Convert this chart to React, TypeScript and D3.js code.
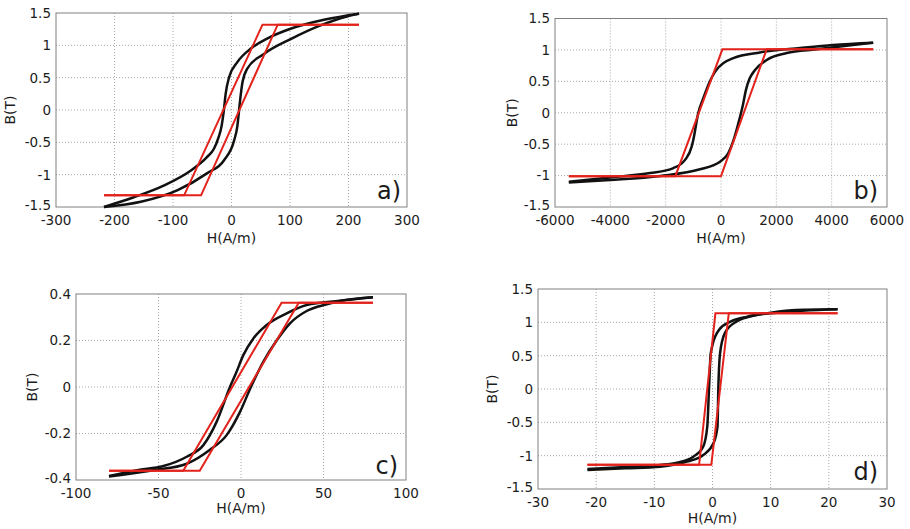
import React from 'react';
import * as d3 from 'd3';

type Pt = [number, number];

// ---- panel a) ----
const hTicksA = [-300, -200, -100, 0, 100, 200, 300];
const bTicksA = [-1.5, -1, -0.5, 0, 0.5, 1, 1.5];
const blackUpA: Pt[] = [
  [-218, -1.5], [-155, -1.42], [-92, -1.24], [-42, -0.98], [-13, -0.78], [4.5, -0.47],
  [10, -0.25], [13, 0], [16, 0.25], [19, 0.44], [27, 0.64], [56, 0.87], [102, 1.1],
  [150, 1.3], [199, 1.45], [218, 1.49],
];
const blackDownA: Pt[] = [
  [218, 1.49], [160, 1.4], [102, 1.26], [60, 1.1], [33, 0.95], [10, 0.74], [-4, 0.51],
  [-10, 0.25], [-13, 0], [-17, -0.25], [-22, -0.42], [-30, -0.6], [-42, -0.73],
  [-70, -0.94], [-116, -1.17], [-167, -1.35], [-218, -1.5],
];
const redUpA: Pt[] = [[-218, -1.32], [-52, -1.32], [79, 1.32], [218, 1.32]];
const redDownA: Pt[] = [[218, 1.32], [53, 1.32], [-81, -1.32], [-218, -1.32]];

// ---- panel b) ----
const hTicksB = [-6000, -4000, -2000, 0, 2000, 4000, 6000];
const bTicksB = [-1.5, -1, -0.5, 0, 0.5, 1, 1.5];
const blackUpB: Pt[] = [
  [-5500, -1.11], [-4010, -1.07], [-2200, -1.005], [-760, -0.9], [-36, -0.78], [265, -0.64],
  [480, -0.4], [650, -0.13], [790, 0.12], [900, 0.36], [1030, 0.54], [1230, 0.68],
  [1650, 0.84], [2375, 0.95], [3460, 1.01], [5500, 1.115],
];
const blackDownB: Pt[] = [
  [5500, 1.115], [4050, 1.08], [2860, 1.03], [1410, 0.96], [447, 0.87], [-217, 0.65],
  [-400, 0.5], [-640, 0.23], [-820, 0], [-1000, -0.43], [-1060, -0.54], [-1300, -0.75],
  [-1720, -0.88], [-2560, -0.96], [-4010, -1.03], [-5500, -1.1],
];
const redUpB: Pt[] = [[-5500, -1.01], [0, -1.01], [1650, 1.01], [5500, 1.01]];
const redDownB: Pt[] = [[5500, 1.01], [50, 1.01], [-1650, -1.01], [-5500, -1.01]];

// ---- panel c) ----
const hTicksC = [-100, -50, 0, 50, 100];
const bTicksC = [-0.4, -0.2, 0, 0.2, 0.4];
const blackUpC: Pt[] = [
  [-80, -0.385], [-53, -0.358], [-32.9, -0.33], [-18.8, -0.27], [-8.7, -0.207], [-0.6, -0.107],
  [6, 0], [13.5, 0.108], [21.6, 0.2], [29.7, 0.274], [39.8, 0.327], [52, 0.356],
  [60, 0.37], [80, 0.386],
];
const blackDownC: Pt[] = [
  [80, 0.386], [60, 0.371], [39.8, 0.353], [27.7, 0.317], [15.6, 0.267], [7.5, 0.209],
  [1.4, 0.137], [-3, 0.06], [-6.7, 0], [-14.8, -0.15], [-22.8, -0.25], [-32.9, -0.3],
  [-47, -0.34], [-63, -0.358], [-80, -0.383],
];
const redUpC: Pt[] = [[-80, -0.36], [-25, -0.36], [35, 0.362], [80, 0.362]];
const redDownC: Pt[] = [[80, 0.362], [24.6, 0.362], [-35, -0.36], [-80, -0.36]];

// ---- panel d) ----
const hTicksD = [-30, -20, -10, 0, 10, 20, 30];
const bTicksD = [-1.5, -1, -0.5, 0, 0.5, 1, 1.5];
const blackUpD: Pt[] = [
  [-21.5, -1.215], [-15, -1.19], [-9, -1.165], [-4.4, -1.09], [-1.6, -0.99], [0.17, -0.815],
  [0.86, -0.565], [1.0, 0], [1.3, 0.535], [2.1, 0.835], [4.1, 1.01], [7.6, 1.11],
  [11, 1.145], [21.5, 1.195],
];
const blackDownD: Pt[] = [
  [21.5, 1.195], [14.4, 1.185], [10, 1.145], [6, 1.085], [3.1, 1.01], [1.1, 0.885],
  [-0.3, 0.535], [-0.6, 0], [-0.9, -0.565], [-1.6, -0.865], [-3.3, -1.015], [-6.1, -1.105],
  [-9, -1.14], [-15, -1.17], [-21.5, -1.2],
];
const redUpD: Pt[] = [[-21.5, -1.135], [-0.2, -1.135], [2.8, 1.135], [21.5, 1.135]];
const redDownD: Pt[] = [[21.5, 1.135], [0.5, 1.135], [-2.3, -1.135], [-21.5, -1.135]];

const FONT = 'DejaVu Sans, sans-serif';
const TEXT = '#1c1c1c';

interface PanelProps {
  box: { x0: number; x1: number; y0: number; y1: number };
  hTicks: number[];
  bTicks: number[];
  blackUp: Pt[];
  blackDown: Pt[];
  redUp: Pt[];
  redDown: Pt[];
  letter: string;
  letterPos: [number, number];
  hLabelY: number;
  bLabelX: number;
}

const Panel = ({ box, hTicks, bTicks, blackUp, blackDown, redUp, redDown, letter, letterPos, hLabelY, bLabelX }: PanelProps) => {
  const x = d3.scaleLinear().domain(d3.extent(hTicks) as [number, number]).range([box.x0, box.x1]);
  const y = d3.scaleLinear().domain(d3.extent(bTicks) as [number, number]).range([box.y1, box.y0]);

  // smooth measured branches, straight model segments
  const smooth = d3.line<Pt>().x(d => x(d[0])).y(d => y(d[1])).curve(d3.curveMonotoneX);
  const straight = d3.line<Pt>().x(d => x(d[0])).y(d => y(d[1]));
  const sorted = (pts: Pt[]) => [...pts].sort((a, b) => a[0] - b[0]);

  const inner = (t: number[]) => t.slice(1, -1);

  return (
    <g>
      {/* grid */}
      {inner(hTicks).map(t => (
        <line key={'gx' + t} x1={x(t)} x2={x(t)} y1={box.y0} y2={box.y1}
          stroke="#a8a8a8" strokeWidth={1} strokeDasharray="1 2" />
      ))}
      {inner(bTicks).map(t => (
        <line key={'gy' + t} x1={box.x0} x2={box.x1} y1={y(t)} y2={y(t)}
          stroke="#a8a8a8" strokeWidth={1} strokeDasharray="1 2" />
      ))}
      <rect x={box.x0} y={box.y0} width={box.x1 - box.x0} height={box.y1 - box.y0}
        fill="none" stroke="#808080" strokeWidth={1} />

      {/* tick labels */}
      {hTicks.map(t => (
        <text key={'tx' + t} x={x(t)} y={box.y1 + 18} textAnchor="middle"
          fontFamily={FONT} fontSize={13.5} fill={TEXT}>{String(t)}</text>
      ))}
      {bTicks.map(t => (
        <text key={'ty' + t} x={box.x0 - 5} y={y(t)} dy={t === bTicks[0] ? '0.25em' : '0.36em'} textAnchor="end"
          fontFamily={FONT} fontSize={13.5} fill={TEXT}>{String(t)}</text>
      ))}
      <text x={(box.x0 + box.x1) / 2} y={hLabelY} dy="0.36em" textAnchor="middle"
        fontFamily={FONT} fontSize={14} fill={TEXT}>H(A/m)</text>
      <text transform={`translate(${bLabelX},${(box.y0 + box.y1) / 2}) rotate(-90)`} dy="0.36em"
        textAnchor="middle" fontFamily={FONT} fontSize={14} fill={TEXT}>B(T)</text>

      {/* curves */}
      <path d={smooth(sorted(blackUp)) || ''} fill="none" stroke="#111" strokeWidth={2.5} />
      <path d={smooth(sorted(blackDown)) || ''} fill="none" stroke="#111" strokeWidth={2.5} />
      <path d={straight(redUp) || ''} fill="none" stroke="#e3221c" strokeWidth={2} strokeLinejoin="miter" />
      <path d={straight(redDown) || ''} fill="none" stroke="#e3221c" strokeWidth={2} strokeLinejoin="miter" />

      <text x={letterPos[0]} y={letterPos[1]} textAnchor="end"
        fontFamily={FONT} fontSize={24} fill={TEXT}>{letter}</text>
    </g>
  );
};

export default function App() {
  return (
    <svg width={910} height={529} style={{ position: 'absolute', left: 0, top: 0, background: '#fff' }}>
      <Panel box={{ x0: 56, x1: 407, y0: 13, y1: 207 }} hTicks={hTicksA} bTicks={bTicksA}
        blackUp={blackUpA} blackDown={blackDownA} redUp={redUpA} redDown={redDownA}
        letter="a)" letterPos={[401, 199]} hLabelY={238} bLabelX={10} />
      <Panel box={{ x0: 555, x1: 887, y0: 18.5, y1: 207 }} hTicks={hTicksB} bTicks={bTicksB}
        blackUp={blackUpB} blackDown={blackDownB} redUp={redUpB} redDown={redDownB}
        letter="b)" letterPos={[878, 199]} hLabelY={238} bLabelX={512} />
      <Panel box={{ x0: 76, x1: 406, y0: 294, y1: 480 }} hTicks={hTicksC} bTicks={bTicksC}
        blackUp={blackUpC} blackDown={blackDownC} redUp={redUpC} redDown={redDownC}
        letter="c)" letterPos={[398, 474]} hLabelY={508} bLabelX={32} />
      <Panel box={{ x0: 538, x1: 887, y0: 289, y1: 489 }} hTicks={hTicksD} bTicks={bTicksD}
        blackUp={blackUpD} blackDown={blackDownD} redUp={redUpD} redDown={redDownD}
        letter="d)" letterPos={[878, 480]} hLabelY={518} bLabelX={492} />
    </svg>
  );
}
